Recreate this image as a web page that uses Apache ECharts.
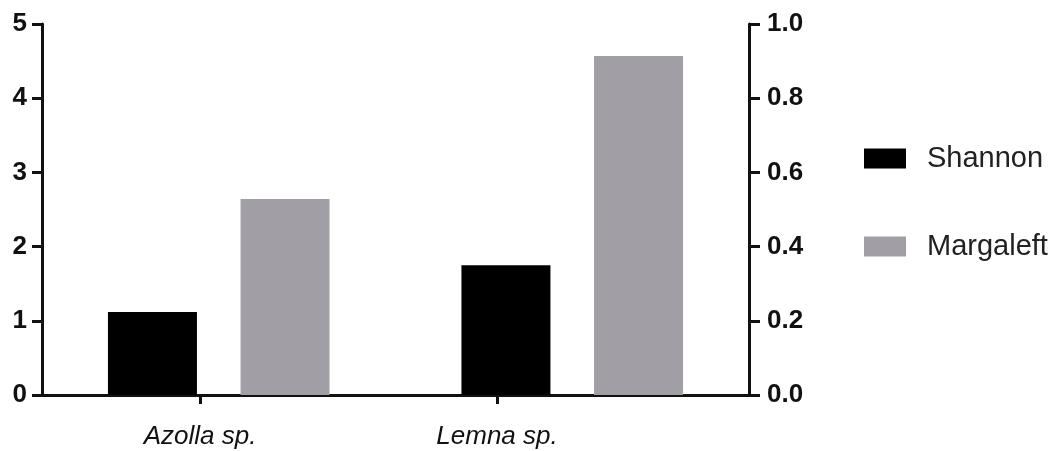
<!DOCTYPE html>
<html>
<head>
<meta charset="utf-8">
<script src="https://cdn.jsdelivr.net/npm/echarts@6/dist/echarts.min.js"></script>
<style>html,body{margin:0;padding:0;background:#fff;}#c{width:1058px;height:451px;}</style>
</head>
<body>
<div id="c"></div>
<script>
const categories = ['Azolla sp.', 'Lemna sp.'];
const shannon = [1.12, 1.75];
const margaleft = [2.64, 4.57];
const leftTicks = [0, 1, 2, 3, 4, 5];
const rightTicks = [0.0, 0.2, 0.4, 0.6, 0.8, 1.0];

// where the category labels/ticks sit along the bottom (fraction of axis width)
const labelSpots = [0.2235, 0.6436];

const chart = echarts.init(document.getElementById('c'));
const axisLine = { show: true, lineStyle: { color: '#111', width: 3 } };
chart.setOption({
  animation: false,
  grid: { left: 42, right: 309, top: 24, bottom: 56 },
  legend: {
    orient: 'vertical', left: 864, top: 144, padding: 0,
    itemWidth: 42, itemHeight: 20, itemGap: 59,
    icon: 'rect',
    textStyle: { fontFamily: 'Liberation Sans', fontSize: 29, color: '#222', padding: [0, 0, 0, 16] },
    data: ['Shannon', 'Margaleft']
  },
  xAxis: [
    {
      type: 'category', data: categories, position: 'bottom',
      axisLine: axisLine, axisTick: { show: false }, axisLabel: { show: false }
    },
    {
      type: 'value', min: 0, max: 1, position: 'bottom',
      axisLine: { show: false }, splitLine: { show: false },
      axisTick: { show: true, length: 9, lineStyle: { color: '#111', width: 3 }, customValues: labelSpots },
      axisLabel: {
        customValues: labelSpots, margin: 29,
        fontFamily: 'Liberation Sans', fontStyle: 'italic', fontSize: 26, color: '#111',
        formatter: v => categories[labelSpots.indexOf(v)] || ''
      }
    }
  ],
  yAxis: [
    {
      type: 'value', min: leftTicks[0], max: leftTicks[leftTicks.length - 1], interval: 1,
      position: 'left', axisLine: axisLine, splitLine: { show: false },
      axisTick: { show: true, length: 10, lineStyle: { color: '#111', width: 3 } },
      axisLabel: { margin: 15, fontFamily: 'Liberation Sans', fontWeight: 'bold', fontSize: 26, color: '#111' }
    },
    {
      type: 'value', min: rightTicks[0], max: rightTicks[rightTicks.length - 1], interval: 0.2,
      position: 'right', axisLine: axisLine, splitLine: { show: false },
      axisTick: { show: true, length: 11, lineStyle: { color: '#111', width: 3 } },
      axisLabel: { margin: 18, fontFamily: 'Liberation Sans', fontWeight: 'bold', fontSize: 26, color: '#111',
        formatter: v => v.toFixed(1) }
    }
  ],
  series: [
    { name: 'Shannon', type: 'bar', data: shannon, xAxisIndex: 0, yAxisIndex: 0,
      barWidth: 89, barGap: '49%', itemStyle: { color: '#000' } },
    { name: 'Margaleft', type: 'bar', data: margaleft, xAxisIndex: 0, yAxisIndex: 0,
      barWidth: 89, barGap: '49%', itemStyle: { color: '#a19fa5' } }
  ]
});
</script>
</body>
</html>
